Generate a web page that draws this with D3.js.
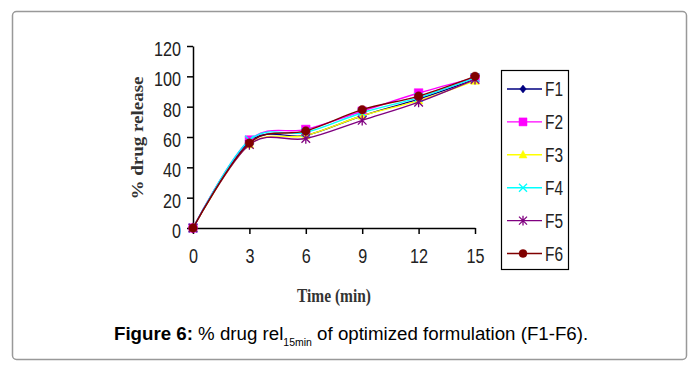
<!DOCTYPE html>
<html>
<head>
<meta charset="utf-8">
<script src="https://cdn.jsdelivr.net/npm/d3@7"></script>
<style>
  body { margin: 0; background: #fff; }
</style>
</head>
<body>
<svg id="chart" width="696" height="367"></svg>
<script>
// data
const times = [0, 3, 6, 9, 12, 15];
const seriesNames = ['F1', 'F2', 'F3', 'F4', 'F5', 'F6'];
const f1 = [0, 57, 61, 74, 85, 98];
const f2 = [0, 58, 65, 77, 89, 99];
const f3 = [0, 55, 61, 74, 84, 97];
const f4 = [0, 58, 63, 76, 86, 99];
const f5 = [0, 55, 59, 71, 83, 98];
const f6 = [0, 56, 64, 78, 87, 100];
const yTicks = [0, 20, 40, 60, 80, 100, 120];
const xTicks = [0, 3, 6, 9, 12, 15];
const colors = ['#000080', '#ff00ff', '#ffff00', '#00ffff', '#800080', '#800000'];

const svg = d3.select('#chart');

// figure frame
svg.append('rect')
    .attr('x', 12.5).attr('y', 11.5)
    .attr('width', 674).attr('height', 348)
    .attr('rx', 4)
    .attr('fill', 'none')
    .attr('stroke', '#999')
    .attr('stroke-width', 1.5);

const xScale = d3.scaleLinear().domain([0, 15]).range([193, 475]);
const yScale = d3.scaleLinear().domain([0, 120]).range([228, 46]);

// marker shapes
function markerPath(i, s) {
    if (i === 0) return `M0,${-s}L${s * 0.8},0L0,${s}L${-s * 0.8},0Z`;
    if (i === 1) return `M${-s},${-s}H${s}V${s}H${-s}Z`;
    if (i === 2) return `M0,${-s * 1.1}L${s},${s * 0.8}H${-s}Z`;
    if (i === 3) return `M${-s},${-s}L${s},${s}M${-s},${s}L${s},${-s}`;
    if (i === 4) return `M${-s},${-s}L${s},${s}M${-s},${s}L${s},${-s}M0,${-s * 1.2}V${s * 1.2}`;
    return d3.arc()({ innerRadius: 0, outerRadius: s, startAngle: 0, endAngle: 2 * Math.PI });
}
const strokeMarker = i => i === 3 || i === 4;

// axes
const yAxis = d3.axisLeft(yScale).tickValues(yTicks).tickSize(6).tickSizeOuter(0).tickPadding(6);
const gy = svg.append('g').attr('transform', `translate(${xScale(0)},0)`).call(yAxis);

const xAxis = d3.axisBottom(xScale).tickValues(xTicks).tickSize(6).tickSizeOuter(0);
const gx = svg.append('g').attr('transform', `translate(0,${yScale(0)})`).call(xAxis);

[gy, gx].forEach(g => {
    g.select('.domain').attr('stroke', '#000').attr('stroke-width', 1.5);
    g.selectAll('.tick line').attr('stroke', '#000').attr('stroke-width', 1.5);
    g.selectAll('.tick text')
        .attr('font-family', 'Liberation Sans, Arial, sans-serif')
        .attr('font-size', 20)
        .attr('fill', '#222')
        .attr('textLength', function () { return this.textContent.length * 9; })
        .attr('lengthAdjust', 'spacingAndGlyphs');
});
gy.selectAll('.tick text').attr('dy', '0.48em');
gx.selectAll('.tick text').attr('y', 35).attr('dy', 0);

// series
const allSeries = [f1, f2, f3, f4, f5, f6];
const line = d3.line()
    .x((d, i) => xScale(times[i]))
    .y(d => yScale(d))
    .curve(d3.curveCardinal.tension(0));

allSeries.forEach((vals, k) => {
    svg.append('path')
        .attr('d', line(vals))
        .attr('fill', 'none')
        .attr('stroke', colors[k])
        .attr('stroke-width', 1.4);
    svg.append('g').selectAll('path')
        .data(vals)
        .join('path')
        .attr('transform', (d, i) => `translate(${xScale(times[i])},${yScale(d)})`)
        .attr('d', markerPath(k, 4.3))
        .attr('fill', strokeMarker(k) ? 'none' : colors[k])
        .attr('stroke', colors[k])
        .attr('stroke-width', strokeMarker(k) ? 1.3 : 0.5);
});

// legend
const legend = svg.append('g');
legend.append('rect')
    .attr('x', 501.5).attr('y', 70.5)
    .attr('width', 67).attr('height', 199)
    .attr('fill', '#fff')
    .attr('stroke', '#000')
    .attr('stroke-width', 1.2);
seriesNames.forEach((name, k) => {
    const y = 89 + k * 32.9;
    legend.append('line')
        .attr('x1', 507).attr('x2', 542)
        .attr('y1', y).attr('y2', y)
        .attr('stroke', colors[k]).attr('stroke-width', 1.4);
    legend.append('path')
        .attr('transform', `translate(523,${y})`)
        .attr('d', markerPath(k, 4))
        .attr('fill', strokeMarker(k) ? 'none' : colors[k])
        .attr('stroke', colors[k])
        .attr('stroke-width', strokeMarker(k) ? 1.3 : 0.5);
    legend.append('text')
        .attr('x', 545).attr('y', y + 7)
        .attr('font-family', 'Liberation Sans, Arial, sans-serif')
        .attr('font-size', 20)
        .attr('fill', '#222')
        .attr('textLength', 18)
        .attr('lengthAdjust', 'spacingAndGlyphs')
        .text(name);
});

// axis titles
svg.append('text')
    .attr('transform', 'translate(143,138) rotate(-90)')
    .attr('text-anchor', 'middle')
    .attr('font-family', 'Liberation Serif, Times New Roman, serif')
    .attr('font-weight', 'bold')
    .attr('font-size', 16)
    .attr('fill', '#333')
    .attr('textLength', 123)
    .attr('lengthAdjust', 'spacingAndGlyphs')
    .text('% drug release');

svg.append('text')
    .attr('x', 334).attr('y', 302)
    .attr('text-anchor', 'middle')
    .attr('font-family', 'Liberation Serif, Times New Roman, serif')
    .attr('font-weight', 'bold')
    .attr('font-size', 18)
    .attr('fill', '#333')
    .attr('textLength', 74)
    .attr('lengthAdjust', 'spacingAndGlyphs')
    .text('Time (min)');

// caption
const cap = svg.append('text')
    .attr('x', 114).attr('y', 340)
    .attr('font-family', 'Liberation Sans, Arial, sans-serif')
    .attr('font-size', 18.7)
    .attr('fill', '#000');
cap.append('tspan').attr('font-weight', 'bold').text('Figure 6:');
cap.append('tspan').text(' % drug rel');
cap.append('tspan').attr('font-size', 10.5).attr('dy', 6).text('15min');
cap.append('tspan').attr('dy', -6).text(' of optimized formulation (F1-F6).');
</script>
</body>
</html>
